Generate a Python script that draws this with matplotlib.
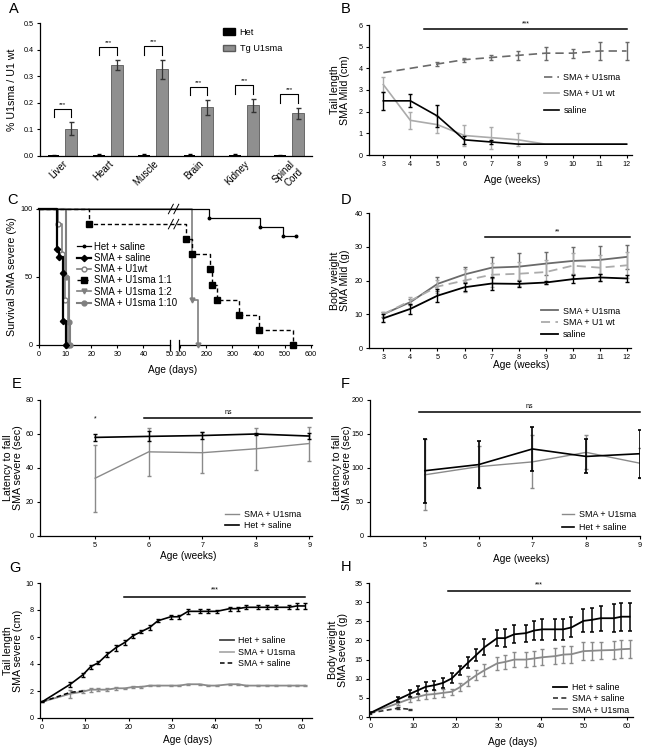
import numpy as np
import matplotlib
matplotlib.use('Agg')
import matplotlib.pyplot as plt
from matplotlib.lines import Line2D
from matplotlib.patches import Patch

plt.rcParams['font.family'] = ['Liberation Sans', 'DejaVu Sans']
plt.rcParams['axes.linewidth'] = 0.9

# ---------------- data ----------------
# Panel A
tissues = ['Liver', 'Heart', 'Muscle', 'Brain', 'Kidney', 'Spinal\nCord']
het_vals = [0.003, 0.004, 0.003, 0.004, 0.003, 0.002]
het_err = [0.002, 0.005, 0.003, 0.004, 0.003, 0.002]
tg_vals = [0.103, 0.341, 0.326, 0.183, 0.191, 0.160]
tg_err = [0.024, 0.019, 0.036, 0.027, 0.025, 0.022]

# Panel B (tail length, SMA mild)
weeks_b = [3, 4, 5, 6, 7, 8, 9, 10, 11, 12]
b_u1sma = [3.8, 4.0, 4.2, 4.4, 4.5, 4.6, 4.7, 4.7, 4.8, 4.8]
b_u1sma_err = [0, 0, 0.08, 0.1, 0.1, 0.2, 0.3, 0.2, 0.4, 0.4]
b_u1wt = [3.25, 1.6, 1.4, 0.9, 0.8, 0.7, 0.5, 0.5, 0.5, 0.5]
b_u1wt_err = [0.35, 0.4, 0.4, 0.5, 0.5, 0.3, 0, 0, 0, 0]
b_saline = [2.5, 2.5, 1.8, 0.7, 0.6, 0.5, 0.5, 0.5, 0.5, 0.5]
b_saline_err = [0.4, 0.3, 0.5, 0.2, 0.1, 0, 0, 0, 0, 0]

# Panel C (survival)
c_het_t = [0, 212, 407, 495, 545]
c_het_s = [100, 93.3, 86.7, 80, 80]
c_sal_t = [0, 6.8, 7.7, 9.0, 9.3, 10.2]
c_sal_s = [100, 70.6, 64.7, 52.9, 17.6, 0]
c_wt_t = [0, 7.4, 8.9, 9.8, 11.0]
c_wt_s = [100, 88.9, 66.7, 33.3, 0]
c_11_t = [0, 19, 123, 147, 216, 223, 242, 325, 401, 534]
c_11_s = [100, 88.9, 77.8, 66.7, 55.6, 44.4, 33.3, 22.2, 11.1, 0]
c_12_t = [0, 147, 147, 167]
c_12_s = [100, 66.7, 33.3, 0]
c_110_t = [0, 10.2, 11.4, 11.9]
c_110_s = [100, 50, 16.7, 0]

# Panel D (body weight, SMA mild)
weeks_d = [3, 4, 5, 6, 7, 8, 9, 10, 11, 12]
d_u1sma = [10.0, 13.6, 19.0, 21.8, 23.8, 24.1, 25.0, 25.8, 26.1, 27.0]
d_u1sma_err = [0.8, 1.0, 2.0, 2.2, 3.2, 4.0, 3.5, 4.0, 4.1, 3.5]
d_u1wt = [10.0, 14.0, 18.2, 20.0, 21.7, 22.0, 22.5, 24.4, 23.8, 24.5]
d_u1wt_err = [0.8, 1.0, 2.0, 3.5, 3.5, 3.5, 3.5, 3.8, 3.8, 3.8]
d_saline = [8.8, 11.6, 15.5, 18.0, 19.1, 19.0, 19.4, 20.4, 20.9, 20.6]
d_saline_err = [1.2, 1.5, 2.0, 1.2, 1.8, 0.8, 0.5, 1.2, 1.0, 1.0]

# Panel E (latency, weeks)
weeks_e = [5, 6, 7, 8, 9]
e_u1sma = [34.0, 49.5, 49.0, 51.3, 54.4]
e_u1sma_err = [19.6, 14.0, 12.0, 12.5, 10.0]
e_het = [58.0, 58.6, 59.1, 60.0, 58.8]
e_het_err = [2.0, 3.0, 2.0, 0.5, 2.0]

# Panel F (latency, weeks)
weeks_f = [5, 6, 7, 8, 9]
f_u1sma = [90.0, 102.0, 109.0, 123.0, 107.0]
f_u1sma_err = [52.0, 31.0, 39.0, 25.0, 22.0]
f_het = [96.0, 105.0, 128.0, 117.0, 121.0]
f_het_err = [47.0, 35.0, 32.0, 25.0, 35.0]

# Panels G, H (days)
days = [0, 6.5, 9.4, 11.2, 13.0, 15.0, 17.0, 19.1, 21.0, 22.9, 24.8, 26.7, 29.7, 31.6,
        33.7, 36.4, 38.4, 40.3, 43.3, 45.2, 47.1, 49.9, 52.0, 53.9, 57.0, 58.8, 60.7]
g_het = [1.2, 2.5, 3.2, 3.8, 4.1, 4.7, 5.2, 5.6, 6.1, 6.4, 6.7, 7.2, 7.5, 7.5,
         7.9, 7.9, 7.9, 7.9, 8.1, 8.1, 8.2, 8.2, 8.2, 8.2, 8.2, 8.3, 8.3]
g_het_err = [0.05, 0.2, 0.15, 0.15, 0.1, 0.2, 0.2, 0.2, 0.15, 0.1, 0.2, 0.1, 0.15, 0.15,
             0.2, 0.15, 0.15, 0.1, 0.15, 0.15, 0.15, 0.15, 0.15, 0.15, 0.15, 0.2, 0.2]
g_u1sma = [1.2, 1.8, 1.95, 2.1, 2.1, 2.1, 2.2, 2.2, 2.3, 2.3, 2.4, 2.4, 2.4, 2.4,
           2.5, 2.5, 2.4, 2.4, 2.5, 2.5, 2.4, 2.4, 2.4, 2.4, 2.4, 2.4, 2.4]
g_u1sma_err = [0.05, 0.3, 0.1, 0.15, 0.1, 0.1, 0.1, 0.05, 0.1, 0.1, 0.05, 0.05, 0.05, 0.05,
               0.05, 0.05, 0.05, 0.05, 0.05, 0.05, 0.05, 0.05, 0.05, 0.05, 0.05, 0.05, 0.05]
sal_days = [0, 6.5, 9.4]
g_saline = [1.2, 1.9, 2.0]

h_het = [1.05, 4.6, 6.1, 7.0, 7.9, 8.3, 8.9, 10.1, 12.2, 14.2, 16.2, 18.2, 20.6, 20.6,
         21.6, 21.9, 22.6, 22.9, 22.9, 22.9, 23.4, 25.1, 25.4, 25.8, 25.8, 26.2, 26.2]
h_het_err = [0.3, 0.6, 1.0, 1.0, 1.2, 1.2, 1.3, 1.3, 1.2, 1.5, 1.5, 2.1, 2.0, 2.4,
             2.3, 2.2, 2.6, 2.8, 2.8, 2.8, 2.6, 3.0, 3.2, 3.3, 3.6, 3.7, 3.7]
h_u1sma = [1.05, 3.6, 4.8, 5.3, 5.8, 6.0, 6.3, 6.6, 7.8, 9.4, 10.9, 12.2, 14.0, 14.4,
           15.0, 15.0, 15.3, 15.6, 15.9, 16.3, 16.4, 17.2, 17.3, 17.4, 17.5, 17.7, 17.8]
h_u1sma_err = [0.2, 0.5, 0.8, 0.8, 1.0, 1.0, 1.0, 0.8, 1.0, 1.3, 1.3, 1.6, 1.6, 1.8,
               2.0, 2.0, 2.0, 2.1, 2.1, 2.2, 2.2, 2.3, 2.3, 2.3, 2.3, 2.4, 2.3]
h_saline = [1.05, 2.3, 2.0]
h_saline_err = [0, 0.3, 0.2]

# ---------------- figure ----------------
W, H = 645, 748
fig = plt.figure(figsize=(W / 100, H / 100), dpi=100)

TICK_FS = 5.2
LAB_FS = 7.3
YLAB_FS = 7.7
LEG_FS = 6.4
GRAY = '#8a8a8a'
DGRAY = '#6a6a6a'
LGRAY = '#ababab'


def add_ax(x0, y0, x1, y1):
    ax = fig.add_axes([x0 / W, 1 - y1 / H, (x1 - x0) / W, (y1 - y0) / H])
    for s in ['top', 'right']:
        ax.spines[s].set_visible(False)
    ax.tick_params(length=2.5, width=0.8, labelsize=TICK_FS, pad=2)
    return ax


def letter(x, y, t):
    fig.text(x / W, 1 - y / H, t, fontsize=10.5, va='top', ha='left')


def labels(ax, ylab, yx, xlab=None, xx=0.5, xy=-0.15):
    ax.set_ylabel(ylab, fontsize=YLAB_FS, linespacing=1.0)
    ax.yaxis.set_label_coords(yx, 0.5)
    if xlab:
        ax.set_xlabel(xlab, fontsize=LAB_FS)
        ax.xaxis.set_label_coords(xx, xy)


def eb(ax, x, y, e, color, lw=1.2, ls='-', capsize=1.6, elw=1.0, z=2):
    x = np.asarray(x, float); y = np.asarray(y, float); e = np.asarray(e, float)
    ax.plot(x, y, color=color, lw=lw, ls=ls, zorder=z)
    m = e > 0
    ax.errorbar(x[m], y[m], yerr=e[m], fmt='none', ecolor=color, elinewidth=elw,
                capsize=capsize, capthick=elw, zorder=z)


def sig(ax, x0, x1, y, txt, ty):
    ax.plot([x0, x1], [y, y], color='black', lw=1.1, clip_on=False)
    ax.text((x0 + x1) / 2, ty, txt, ha='center', va='bottom', fontsize=5, clip_on=False)


def leg(ax, handles, labels_, x, y, **kw):
    opts = dict(loc='upper left', bbox_to_anchor=(x, y), frameon=False,
                fontsize=LEG_FS, borderpad=0, handlelength=2.0, handletextpad=0.5,
                labelspacing=0.35, borderaxespad=0)
    opts.update(kw)
    return ax.legend(handles, labels_, **opts)

# ---- A ----
axA = add_ax(40, 23, 312, 156)
xa = np.arange(len(tissues))
axA.bar(xa - 0.2, het_vals, width=0.26, color='black', yerr=het_err,
        error_kw=dict(ecolor='black', elinewidth=0.8, capsize=1.5))
axA.bar(xa + 0.19, tg_vals, width=0.26, color='#8f8f8f', edgecolor='#5a5a5a', linewidth=0.6,
        yerr=tg_err, error_kw=dict(ecolor='#333333', elinewidth=0.9, capsize=1.8))
for i in range(len(tissues)):
    top = tg_vals[i] + tg_err[i] + 0.05
    axA.plot([xa[i] - 0.2, xa[i] - 0.2, xa[i] + 0.19, xa[i] + 0.19],
             [top - 0.032, top, top, top - 0.032], color='black', lw=0.8)
    axA.text(xa[i], top + 0.008, '***', ha='center', va='bottom', fontsize=4.5)
axA.set_xlim(-0.5, 5.5)
axA.set_ylim(0, 0.5)
axA.set_yticks([0.0, 0.1, 0.2, 0.3, 0.4, 0.5])
axA.set_yticklabels(['0.0', '0.1', '0.2', '0.3', '0.4', '0.5'])
axA.set_xticks(xa)
axA.set_xticklabels(tissues, rotation=45, ha='right', rotation_mode='anchor', fontsize=7)
axA.tick_params(axis='x', length=0)
labels(axA, '% U1sma / U1 wt', -0.085)
leg(axA, [Patch(color='black'), Patch(facecolor='#8f8f8f', edgecolor='#5a5a5a')],
    ['Het', 'Tg U1sma'], 0.673, 0.965, handlelength=1.3, labelspacing=0.8, fontsize=6.6)
letter(9, 2, 'A')

# ---- B ----
axB = add_ax(369, 25, 632, 155)
eb(axB, weeks_b, b_u1sma, b_u1sma_err, DGRAY, ls=(0, (5, 3)))
eb(axB, weeks_b, b_u1wt, b_u1wt_err, LGRAY)
eb(axB, weeks_b, b_saline, b_saline_err, 'black')
axB.set_xlim(2.47, 12.2)
axB.set_ylim(0, 6)
axB.set_xticks(weeks_b)
axB.set_yticks(range(7))
sig(axB, 4.52, 12.0, 5.8, '***', 5.9)
labels(axB, 'Tail length\nSMA Mild (cm)', -0.072, 'Age (weeks)', 0.544, -0.154)
leg(axB, [Line2D([], [], color=DGRAY, lw=1.2, ls=(0, (5, 3))), Line2D([], [], color=LGRAY, lw=1.2),
          Line2D([], [], color='black', lw=1.2)],
    ['SMA + U1sma', 'SMA + U1 wt', 'saline'], 0.665, 0.633, labelspacing=0.85,
    handlelength=1.7)
letter(341, 2, 'B')

# ---- C ----
def fwd(x):
    x = np.asarray(x, dtype=float)
    return np.where(x <= 50, x, np.where(x >= 100, 54 + (x - 100) / 10.0, 50 + (x - 50) * 4 / 50.0))


def inv(u):
    u = np.asarray(u, dtype=float)
    return np.where(u <= 50, u, np.where(u >= 54, 100 + (u - 54) * 10.0, 50 + (u - 50) * 50 / 4.0))


axC = add_ax(39, 209, 312, 345)
axC.set_xscale('function', functions=(fwd, inv))
CG = '#7f7f7f'


def km(ax, t, s, color, marker, ms, ls='-', lw=1.0, mfc=None, z=2):
    ax.step(t, s, where='post', color=color, lw=lw, ls=ls, zorder=z, clip_on=False)
    ax.plot(t[1:], s[1:], ls='none', marker=marker, ms=ms, color=color,
            mfc=mfc if mfc else color, mec=color, zorder=z + 1, clip_on=False)


km(axC, c_het_t, c_het_s, 'black', 'o', 1.8, lw=0.9, z=3)
km(axC, c_11_t, c_11_s, 'black', 's', 4.0, ls=(0, (3, 2)), lw=1.0, z=3)
km(axC, c_12_t, c_12_s, CG, 'v', 3.5, lw=1.2)
km(axC, c_110_t, c_110_s, CG, 'o', 3.5, lw=1.5)
km(axC, c_wt_t, c_wt_s, CG, 'o', 3.5, lw=1.2, mfc='white')
km(axC, c_sal_t, c_sal_s, 'black', 'D', 3.2, lw=1.6, z=4)
axC.set_xlim(0, 605)
axC.set_ylim(0, 100)
axC.set_xticks([0, 10, 20, 30, 40, 50, 100, 200, 300, 400, 500, 600])
axC.set_xticklabels(['0', '10', '20', '30', '40', '50', '100', '200', '300', '400', '500', '600'])
axC.set_yticks([0, 50, 100])
axC.spines['bottom'].set_visible(False)
axC.plot([0, 50], [0, 0], color='black', lw=0.9, clip_on=False)
axC.plot([100, 605], [0, 0], color='black', lw=0.9, clip_on=False)
axC.plot([50, 50], [-4, 4], color='black', lw=0.9, clip_on=False)
axC.plot([97, 97], [-4, 4], color='black', lw=0.9, clip_on=False)
for yy in [1.0, 0.889]:
    for xx in [0.483, 0.503]:
        axC.plot([xx - 0.009, xx + 0.009], [yy - 0.035, yy + 0.035], transform=axC.transAxes,
                 color='black', lw=0.7, clip_on=False, zorder=5)
labels(axC, 'Survival SMA severe (%)', -0.08, 'Age (days)', 0.49, -0.147)
hC = [Line2D([], [], color='black', lw=0.9, marker='o', ms=1.8),
      Line2D([], [], color='black', lw=1.6, marker='D', ms=3.2),
      Line2D([], [], color=CG, lw=1.2, marker='o', ms=3.5, mfc='white'),
      Line2D([], [], color='black', lw=1.0, ls=(0, (3, 2)), marker='s', ms=4.0),
      Line2D([], [], color=CG, lw=1.2, marker='v', ms=3.5),
      Line2D([], [], color=CG, lw=1.5, marker='o', ms=3.5)]
leg(axC, hC, ['Het + saline', 'SMA + saline', 'SMA + U1wt', 'SMA + U1sma 1:1',
              'SMA + U1sma 1:2', 'SMA + U1sma 1:10'], 0.139, 0.76, labelspacing=0.13,
    handlelength=1.5, handletextpad=0.3, fontsize=6.9)
letter(7, 193, 'C')

# ---- D ----
axD = add_ax(369, 213, 631, 348)
eb(axD, weeks_d, d_u1sma, d_u1sma_err, DGRAY, lw=1.3)
eb(axD, weeks_d, d_u1wt, d_u1wt_err, LGRAY, lw=1.3, ls=(0, (5, 3)))
eb(axD, weeks_d, d_saline, d_saline_err, 'black', lw=1.3)
axD.set_xlim(2.47, 12.15)
axD.set_ylim(0, 40)
axD.set_xticks(weeks_d)
axD.set_yticks([0, 10, 20, 30, 40])
sig(axD, 6.76, 12.1, 32.9, '**', 33.3)
labels(axD, 'Body weight\nSMA Mild (g)', -0.072, 'Age (weeks)', 0.58, -0.089)
leg(axD, [Line2D([], [], color=DGRAY, lw=1.3), Line2D([], [], color=LGRAY, lw=1.3, ls=(0, (5, 3))),
          Line2D([], [], color='black', lw=1.3)],
    ['SMA + U1sma', 'SMA + U1 wt', 'saline'], 0.655, 0.307, labelspacing=0.3)
letter(341, 193, 'D')

# ---- E ----
axE = add_ax(40, 400, 312, 536)
eb(axE, weeks_e, e_u1sma, e_u1sma_err, GRAY, lw=1.0, elw=1.0)
eb(axE, weeks_e, e_het, e_het_err, 'black', lw=1.2, elw=1.0)
axE.set_xlim(3.97, 9.05)
axE.set_ylim(0, 80)
axE.set_xticks(weeks_e)
axE.set_yticks([0, 20, 40, 60, 80])
axE.text(5, 67, '*', ha='center', va='bottom', fontsize=5)
sig(axE, 5.92, 9.05, 69.2, 'ns', 70.5)
labels(axE, 'Latency to fall\nSMA severe (sec)', -0.062, 'Age (weeks)', 0.544, -0.11)
leg(axE, [Line2D([], [], color=GRAY, lw=1.0), Line2D([], [], color='black', lw=1.2)],
    ['SMA + U1sma', 'Het + saline'], 0.68, 0.194, labelspacing=0.25, handlelength=1.6)
letter(12, 377, 'E')

# ---- F ----
axF = add_ax(370, 400, 640, 536)
eb(axF, weeks_f, f_u1sma, f_u1sma_err, GRAY, lw=1.0, elw=1.0)
eb(axF, weeks_f, f_het, f_het_err, 'black', lw=1.2, elw=1.2)
axF.set_xlim(3.98, 9.0)
axF.set_ylim(0, 200)
axF.set_xticks(weeks_f)
axF.set_yticks([0, 50, 100, 150, 200])
sig(axF, 4.9, 9.0, 181.8, 'ns', 186)
labels(axF, 'Latency to fall\nSMA severe (sec)', -0.067, 'Age (weeks)', 0.56, -0.132)
leg(axF, [Line2D([], [], color=GRAY, lw=1.0), Line2D([], [], color='black', lw=1.2)],
    ['SMA + U1sma', 'Het + saline'], 0.711, 0.19, labelspacing=0.4, handlelength=1.4)
letter(341, 377, 'F')

# ---- G ----
axG = add_ax(40, 583, 312, 718)
eb(axG, days, g_u1sma, g_u1sma_err, GRAY, lw=1.3, elw=1.0, capsize=1.5)
axG.plot(sal_days, g_saline, color='black', lw=1.1, ls=(0, (3, 2)), zorder=3)
eb(axG, days, g_het, g_het_err, 'black', lw=1.2, elw=1.0, capsize=1.5, z=4)
axG.set_xlim(-0.5, 62.3)
axG.set_ylim(0, 10)
axG.set_xticks([0, 10, 20, 30, 40, 50, 60])
axG.set_yticks([0, 2, 4, 6, 8, 10])
sig(axG, 19.0, 60.6, 9.0, '***', 9.25)
labels(axG, 'Tail length\nSMA severe (cm)', -0.062, 'Age (days)', 0.544, -0.126)
leg(axG, [Line2D([], [], color='#444444', lw=1.3), Line2D([], [], color=LGRAY, lw=1.3),
          Line2D([], [], color='black', lw=1.1, ls=(0, (3, 2)))],
    ['Het + saline', 'SMA + U1sma', 'SMA + saline'], 0.66, 0.607, labelspacing=0.3,
    handlelength=1.6)
letter(9, 561, 'G')

# ---- H ----
axHh = add_ax(369, 583, 633, 717)
eb(axHh, days, h_u1sma, h_u1sma_err, GRAY, lw=1.3, elw=1.0, capsize=1.5)
eb(axHh, sal_days, h_saline, h_saline_err, '#333333', lw=1.2, ls=(0, (3, 2)), capsize=1.5, z=3)
eb(axHh, days, h_het, h_het_err, 'black', lw=1.3, elw=1.1, capsize=1.5, z=4)
axHh.set_xlim(-0.3, 61.5)
axHh.set_ylim(0, 35)
axHh.set_xticks([0, 10, 20, 30, 40, 50, 60])
axHh.set_yticks([0, 5, 10, 15, 20, 25, 30, 35])
sig(axHh, 18.2, 60.7, 33, '***', 33.7)
labels(axHh, 'Body weight\nSMA severe (g)', -0.08, 'Age (days)', 0.545, -0.152)
leg(axHh, [Line2D([], [], color='black', lw=1.3), Line2D([], [], color='#333333', lw=1.2, ls=(0, (3, 2))),
           Line2D([], [], color=GRAY, lw=1.3)],
    ['Het + saline', 'SMA + saline', 'SMA + U1sma'], 0.697, 0.253, labelspacing=0.25,
    handlelength=1.6)
letter(341, 560, 'H')

fig.savefig('out.png', dpi=100)
